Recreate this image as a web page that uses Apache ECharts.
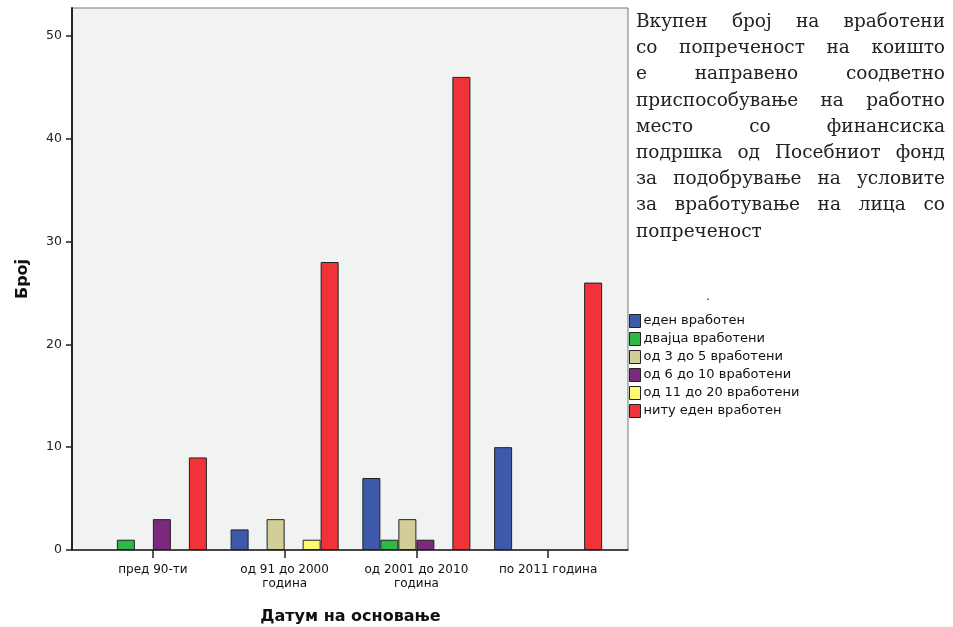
<!DOCTYPE html>
<html>
<head>
<meta charset="utf-8">
<script src="https://cdn.jsdelivr.net/npm/echarts@6/dist/echarts.min.js"></script>
<style>
  html, body { margin: 0; padding: 0; background: #fff; }
  #main { width: 953px; height: 627px; }
  #note {
    position: absolute; left: 636px; top: 8px; width: 309px;
    font-family: "DejaVu Serif", serif; font-size: 18.5px; line-height: 26.2px; color: #222;
  }
  #note div { text-align: justify; text-align-last: justify; white-space: nowrap; }
  #note div.last { text-align-last: left; }
</style>
</head>
<body>
<div id="main"></div>
<div id="note">
  <div>Вкупен број на вработени</div>
  <div>со попреченост на коишто</div>
  <div>е направено соодветно</div>
  <div>приспособување на работно</div>
  <div>место со финансиска</div>
  <div>подршка од Посебниот фонд</div>
  <div>за подобрување на условите</div>
  <div>за вработување на лица со</div>
  <div class="last">попреченост</div>
</div>
<script>
// категории (датум на основање)
const categories = ['пред 90-ти', 'од 91 до 2000\nгодина', 'од 2001 до 2010\nгодина', 'по 2011 година'];
// број на вработени со попреченост - групи
const groupNames = ['еден вработен', 'дваjца вработени', 'од 3 до 5 вработени', 'од 6 до 10 вработени', 'од 11 до 20 вработени', 'ниту еден вработен'];
const edenVraboten = [0, 2, 7, 10];
const dvajcaVraboteni = [1, 0, 1, 0];
const od3do5 = [0, 3, 3, 0];
const od6do10 = [3, 0, 1, 0];
const od11do20 = [0, 1, 0, 0];
const nituEden = [9, 28, 46, 26];
const yTicks = [0, 10, 20, 30, 40, 50];

const groupValues = [edenVraboten, dvajcaVraboteni, od3do5, od6do10, od11do20, nituEden];
const groupColors = ['#3e58ac', '#2eb848', '#d3ce97', '#7c287d', '#fbf873', '#ef3338'];

const chart = echarts.init(document.getElementById('main'));

//серии - нулите не се цртаат
const series = groupNames.map((name, i) => ({
  name: name,
  type: 'bar',
  xAxisIndex: 1,
  yAxisIndex: 1,
  barGap: 0,
  barCategoryGap: '18%',
  itemStyle: { color: groupColors[i], borderColor: '#222', borderWidth: 1 },
  data: groupValues[i].map(v => v === 0 ? null : v)
}));

const labelFont = 'DejaVu Sans';

chart.setOption({
  animation: false,
  grid: [
    { left: 72, top: 8, width: 556, height: 542, outerBoundsMode: 'none', show: true, backgroundColor: '#f1f2f2', borderColor: '#777', borderWidth: 1 },
    { left: 87, top: 8, width: 527, height: 542, outerBoundsMode: 'none' }
  ],
  legend: {
    orient: 'vertical',
    left: 629,
    top: 314,
    padding: 0,
    itemWidth: 11,
    itemHeight: 13,
    itemGap: 4,
    icon: 'rect',
    itemStyle: { borderColor: '#222', borderWidth: 1 },
    textStyle: { fontFamily: labelFont, fontSize: 13, color: '#111', padding: [0, 0, 0, -2] },
    data: groupNames
  },
  graphic: [
    { type: 'text', left: 706, top: 291, style: { text: '.', fontFamily: labelFont, fontSize: 12, fill: '#111' } }
  ],
  xAxis: [
    {
      gridIndex: 0, type: 'value', min: 0, max: 1,
      axisLine: { show: true, lineStyle: { color: '#222', width: 1.5 } },
      axisTick: { show: false }, axisLabel: { show: false }, splitLine: { show: false }
    },
    {
      gridIndex: 1, type: 'category', data: categories,
      axisLine: { show: false },
      axisTick: { show: true, interval: 0, alignWithLabel: true, length: 8, lineStyle: { color: '#222', width: 1.5 } },
      axisLabel: { interval: 0, fontFamily: labelFont, fontSize: 12, color: '#111', margin: 13, lineHeight: 14 },
      name: 'Датум на основање',
      nameLocation: 'middle',
      nameGap: 59,
      nameTextStyle: { fontFamily: labelFont, fontSize: 16, fontWeight: 'bold', color: '#111' }
    }
  ],
  yAxis: [
    {
      gridIndex: 0, type: 'value', min: 0, max: 52.7, interval: 10,
      axisLine: { show: true, lineStyle: { color: '#222', width: 2 } },
      axisTick: { show: true, length: 6, customValues: yTicks, lineStyle: { color: '#222', width: 1.5 } },
      axisLabel: { fontFamily: labelFont, fontSize: 12.5, color: '#222', margin: 10, customValues: yTicks },
      splitLine: { show: false },
      name: 'Број',
      nameLocation: 'middle',
      nameGap: 41,
      nameTextStyle: { fontFamily: labelFont, fontSize: 16, fontWeight: 'bold', color: '#111' }
    },
    { gridIndex: 1, type: 'value', min: 0, max: 52.7, show: false, splitLine: { show: false } }
  ],
  series: series
});
</script>
</body>
</html>
